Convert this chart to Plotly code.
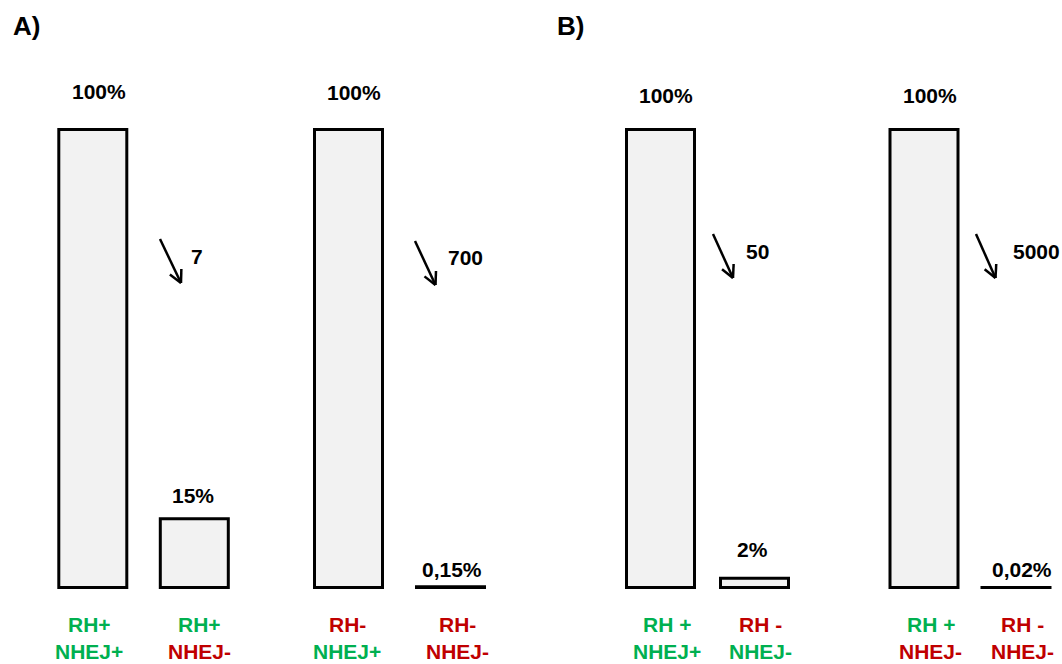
import math
import plotly.graph_objects as go

# ---------------- data ----------------
panels = ["A)", "B)"]

rh_A = ["RH+", "RH+", "RH-", "RH-"]
nhej_A = ["NHEJ+", "NHEJ-", "NHEJ+", "NHEJ-"]
rh_colors_A = ["green", "green", "red", "red"]
nhej_colors_A = ["green", "red", "green", "red"]
values_A = [100, 15, 100, 0.15]
value_labels_A = ["100%", "15%", "100%", "0,15%"]
fold_A = ["7", "700"]

rh_B = ["RH +", "RH -", "RH +", "RH -"]
nhej_B = ["NHEJ+", "NHEJ-", "NHEJ-", "NHEJ-"]
rh_colors_B = ["green", "red", "green", "red"]
nhej_colors_B = ["green", "green", "red", "red"]
values_B = [100, 2, 100, 0.02]
value_labels_B = ["100%", "2%", "100%", "0,02%"]
fold_B = ["50", "5000"]

# ---------------- layout constants (pixels) ----------------
W, H = 1062, 664
Y0 = 587.5          # pixel row of value 0
S = 4.58            # pixels per percent
YMIN = -(H - Y0) / S
YMAX = Y0 / S

COLORS = {"green": "#00b050", "red": "#c00000"}
FONT = "Arial, 'Liberation Sans', sans-serif"
FS = 21
BAR_W = 68
FILL = "#f2f2f2"

bar_x_A = [92.8, 194.3, 348.5, 450.5]
bar_x_B = [660.5, 754.5, 924.0, 1016.0]
vlab_pos_A = [(98.8, 92), (193.5, 495), (354, 93), (452, 569)]
vlab_pos_B = [(666, 95), (752, 549), (930, 95), (1022, 569)]
cat_x_A = [89, 199, 347, 457]
cat_x_B = [667, 760, 930.5, 1022]
arrows_A = [((160, 239), (181, 283)), ((415, 241), (435.5, 285))]
arrows_B = [((713, 234), (733, 278)), ((976, 234), (995.5, 278))]
fold_pos_A = [(196.7, 256), (465, 258)]
fold_pos_B = [(757, 251), (1036.5, 251)]
panel_pos = [(26, 26), (570, 26)]
cat_y = (624, 651)


def px(x):
    return x / W


def py(y):
    return 1 - y / H


fig = go.Figure()

for xs, vals in ((bar_x_A, values_A), (bar_x_B, values_B)):
    fig.add_trace(go.Bar(
        x=xs, y=vals, width=[BAR_W] * len(xs),
        marker=dict(color=FILL, line=dict(color="black", width=3)),
        hoverinfo="skip", showlegend=False,
    ))

annotations = []
shapes = []


def text(x, y, s, size=FS, color="black"):
    annotations.append(dict(
        x=px(x), y=py(y), xref="paper", yref="paper", text=s, showarrow=False,
        xanchor="center", yanchor="middle",
        font=dict(family=FONT, size=size, color=color),
    ))


for lab, pos in zip(value_labels_A + value_labels_B, vlab_pos_A + vlab_pos_B):
    text(pos[0], pos[1], "<b>%s</b>" % lab)

for lab, pos in zip(fold_A + fold_B, fold_pos_A + fold_pos_B):
    text(pos[0], pos[1], "<b>%s</b>" % lab)

for (name, pos) in zip(panels, panel_pos):
    text(pos[0], pos[1], "<b>%s</b>" % name, size=26)

for rh, nh, rc, nc, xs in ((rh_A, nhej_A, rh_colors_A, nhej_colors_A, cat_x_A),
                           (rh_B, nhej_B, rh_colors_B, nhej_colors_B, cat_x_B)):
    for r, n, c1, c2, x in zip(rh, nh, rc, nc, xs):
        text(x, cat_y[0], "<b>%s</b>" % r, color=COLORS[c1])
        text(x, cat_y[1], "<b>%s</b>" % n, color=COLORS[c2])

HEAD_LEN = 14
HEAD_ANG = math.radians(27)
for (x0, y0), (x1, y1) in arrows_A + arrows_B:
    line = dict(color="black", width=2.5)
    shapes.append(dict(type="line", xref="paper", yref="paper",
                       x0=px(x0), y0=py(y0), x1=px(x1), y1=py(y1), line=line))
    ang = math.atan2(y0 - y1, x0 - x1)
    for sgn in (-1, 1):
        a = ang + sgn * HEAD_ANG
        hx = x1 + HEAD_LEN * math.cos(a)
        hy = y1 + HEAD_LEN * math.sin(a)
        shapes.append(dict(type="line", xref="paper", yref="paper",
                           x0=px(x1), y0=py(y1), x1=px(hx), y1=py(hy), line=line))

fig.update_layout(
    width=W, height=H,
    margin=dict(l=0, r=0, t=0, b=0),
    paper_bgcolor="white", plot_bgcolor="white",
    xaxis=dict(range=[0, W], visible=False, fixedrange=True),
    yaxis=dict(range=[YMIN, YMAX], visible=False, fixedrange=True),
    annotations=annotations, shapes=shapes,
    barmode="overlay",
)

fig.write_html("out.html", config={"displayModeBar": False},
               post_script="document.body.style.margin='0';")
